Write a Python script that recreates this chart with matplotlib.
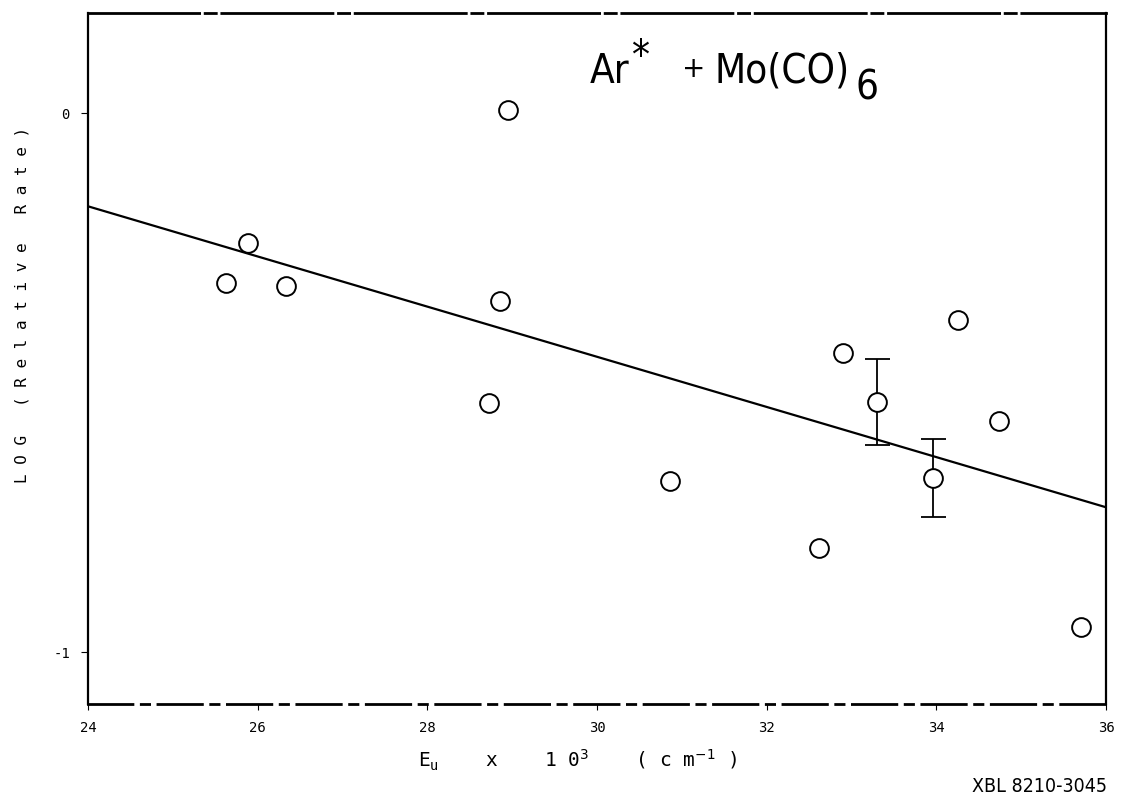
import matplotlib
matplotlib.use('Agg')
import matplotlib.pyplot as plt
import numpy as np

# data
energy = [25.63, 25.89, 26.33, 28.95, 28.86, 28.73, 30.86, 32.62, 32.90,
          33.30, 33.96, 34.25, 34.74, 35.71]
log_rate = [-0.315, -0.241, -0.321, 0.006, -0.349, -0.538, -0.683, -0.807,
            -0.445, -0.536, -0.677, -0.384, -0.570, -0.954]

# points carrying error bars
err_x = [33.30, 33.96]
err_y = [-0.536, -0.677]
err_size = [0.08, 0.072]

# fitted line end points
fit_x = [24.0, 36.0]
fit_y = [-0.1725, -0.731]

x_ticks = [24, 26, 28, 30, 32, 34, 36]
y_ticks = [0, -1]

W, H = 1123, 795


def px(x, y):
    # pixel position -> figure fraction
    return x / W, 1 - y / H


fig = plt.figure(figsize=(W / 100, H / 100), dpi=100)
fig.patch.set_facecolor('white')
ax = fig.add_axes([0.0784, 0.1145, 0.9065, 0.869])

ax.plot(fit_x, fit_y, color='black', linewidth=1.6)
ax.errorbar(err_x, err_y, yerr=err_size, fmt='none', ecolor='black',
            elinewidth=1.3, capsize=9, capthick=1.3)
ax.plot(energy, log_rate, linestyle='none', marker='o', markersize=13.5,
        markerfacecolor='white', markeredgecolor='black', markeredgewidth=1.4)

ax.set_xlim(24, 36)
ax.set_ylim(-1.096, 0.186)

# frame: solid sides, broken top/bottom like the plotter output
for side in ['left', 'right']:
    ax.spines[side].set_linewidth(1.6)
ax.spines['top'].set_linewidth(2.0)
ax.spines['top'].set_linestyle((0, (40, 2, 4, 2)))
ax.spines['bottom'].set_linewidth(2.0)
ax.spines['bottom'].set_linestyle((0, (16, 3, 3, 3)))

ax.set_xticks(x_ticks)
ax.set_xticklabels([str(t) for t in x_ticks], family='DejaVu Sans Mono')
ax.set_yticks(y_ticks)
ax.set_yticklabels(['0', '-1'], family='DejaVu Sans Mono')
ax.tick_params(axis='x', direction='out', length=4, width=0.8, labelsize=10, pad=8)
ax.tick_params(axis='y', direction='out', length=5, width=0.8, labelsize=10, pad=8)

# title built from pieces so the subscript stays full size and low
tfont = dict(family='DejaVu Sans', fontsize=29, fontweight='light',
             fontstretch='condensed', color='black')
fig.text(*px(590, 83), 'Ar', ha='left', va='baseline', **tfont)
fig.text(*px(632, 69), '*', ha='left', va='baseline', **tfont)
fig.text(*px(694, 77), '+', ha='center', va='baseline',
         family='DejaVu Sans', fontsize=20)
fig.text(*px(715, 83), 'Mo(CO)', ha='left', va='baseline', **tfont)
fig.text(*px(855, 99), '6', ha='left', va='baseline', **tfont)

fig.text(*px(578, 760),
         r'E$_{\mathregular{u}}$    x    1 0$^{3}$    ( c m$^{-1}$ )',
         fontsize=14, ha='center', va='center', family='DejaVu Sans Mono')
fig.text(*px(22, 305), 'L O G   ( R e l a t i v e   R a t e )', rotation=90,
         fontsize=11.5, ha='center', va='center', family='DejaVu Sans Mono')
fig.text(*px(1040, 786), 'XBL 8210-3045', fontsize=14, ha='center',
         va='center', family='DejaVu Sans', fontstretch='condensed')

fig.savefig('out.png', dpi=100, facecolor='white')
